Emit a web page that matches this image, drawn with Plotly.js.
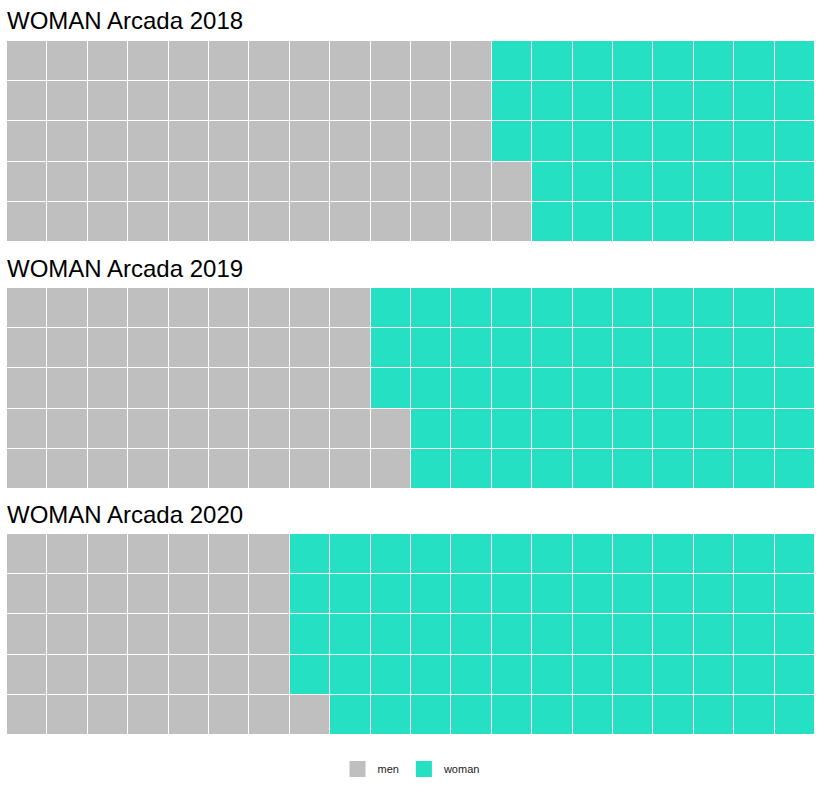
<!DOCTYPE html>
<html>
<head>
<meta charset="utf-8">
<script src="https://cdn.plot.ly/plotly-3.0.1.min.js"></script>
<style>html,body{margin:0;padding:0;background:#fff;}#chart{width:823px;height:800px;}</style>
</head>
<body>
<div id="chart"></div>
<script>
// Data (counts out of 100 squares)
const years = ['2018', '2019', '2020'];
const menCounts = [62, 47, 36];
const womanCounts = [38, 53, 64];
const categories = ['men', 'woman'];
const colors = ['#bfbfbf', '#25e0c2'];

const nCols = 20, nRows = 5;
const W = 823, H = 800;
const panelsPx = [[41, 242], [288, 489], [534, 735]];
const titleYPx = [21, 268, 514];

const traces = [];
const layout = {
  width: W, height: H,
  margin: {l: 0, r: 0, t: 0, b: 0},
  paper_bgcolor: '#ffffff', plot_bgcolor: '#ffffff',
  font: {family: 'Liberation Sans, Arial, sans-serif', color: '#1a1a1a'},
  showlegend: true,
  legend: {orientation: 'h', x: 0.5, xanchor: 'center', y: 1 - 769 / H, yanchor: 'middle',
           font: {size: 11, color: '#1a1a1a'}, itemsizing: 'trace', itemwidth: 30},
  annotations: []
};

years.forEach((yr, p) => {
  const z = [];
  for (let r = 0; r < nRows; r++) {
    const row = [];
    for (let c = 0; c < nCols; c++) {
      const idx = c * nRows + r;
      row.push(idx < menCounts[p] ? 0 : 1);
    }
    z.push(row);
  }
  const ax = p === 0 ? '' : String(p + 1);
  traces.push({
    type: 'heatmap', z: z,
    x: Array.from({length: nCols}, (_, i) => i),
    y: Array.from({length: nRows}, (_, i) => i),
    xaxis: 'x' + ax, yaxis: 'y' + ax,
    zmin: 0, zmax: 1,
    colorscale: [[0, colors[0]], [0.5, colors[0]], [0.5, colors[1]], [1, colors[1]]],
    showscale: false, xgap: 1, ygap: 1, hoverinfo: 'skip', showlegend: false
  });
  const [top, bot] = panelsPx[p];
  const axCommon = {showgrid: false, zeroline: false, showticklabels: false, ticks: '', showline: false, fixedrange: true};
  layout['xaxis' + ax] = Object.assign({domain: [7 / W, 815 / W], range: [-0.5, nCols - 0.5], anchor: 'y' + ax}, axCommon);
  layout['yaxis' + ax] = Object.assign({domain: [1 - bot / H, 1 - top / H], range: [-0.5, nRows - 0.5], anchor: 'x' + ax}, axCommon);
  layout.annotations.push({
    text: 'WOMAN Arcada ' + yr, xref: 'paper', yref: 'paper',
    x: 5 / W, y: 1 - titleYPx[p] / H, xanchor: 'left', yanchor: 'middle',
    showarrow: false, font: {family: 'Liberation Sans, Arial, sans-serif', size: 24, color: '#000000'}
  });
});

categories.forEach((cat, i) => {
  traces.push({
    type: 'scatter', mode: 'markers', x: [null], y: [null], name: cat,
    marker: {symbol: 'square', size: 22, color: colors[i]},
    xaxis: 'x', yaxis: 'y', showlegend: true, hoverinfo: 'skip'
  });
});

Plotly.newPlot('chart', traces, layout, {displayModeBar: false, staticPlot: true});
</script>
</body>
</html>
